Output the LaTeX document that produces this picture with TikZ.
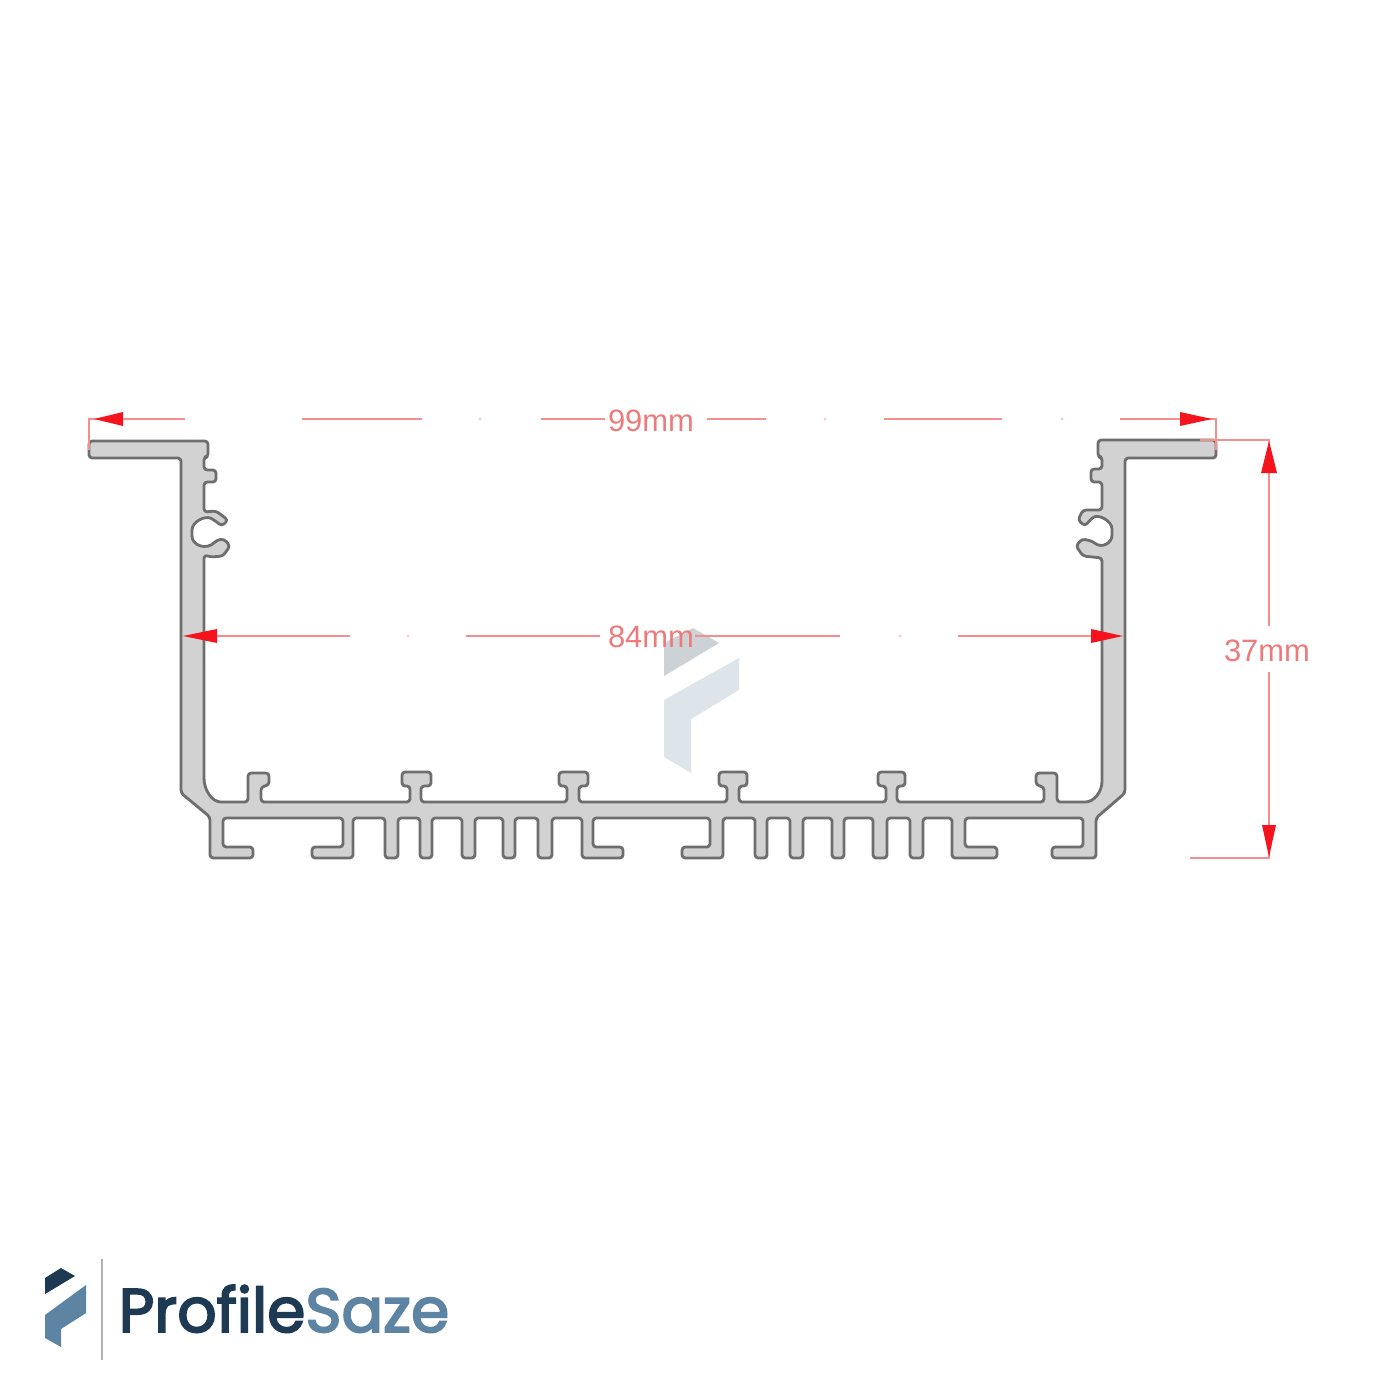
\documentclass[tikz,border=0pt]{standalone}
\usepackage{fontspec}
\setmainfont{Liberation Sans}
\newfontfamily\logofont[FakeBold=3]{Poppins}
\definecolor{metal}{HTML}{D2D2D2}
\definecolor{metaledge}{HTML}{6E6E6E}
\definecolor{dimline}{HTML}{F29090}
\definecolor{dimtext}{HTML}{EE7B7B}
\definecolor{dimhead}{HTML}{F5141E}
\definecolor{wmlow}{HTML}{DEE5EA}
\definecolor{wmup}{HTML}{CDD2D6}
\definecolor{logodark}{HTML}{1E3A52}
\definecolor{logoblue}{HTML}{5D84A3}
\tikzset{
  profile/.style={draw=metaledge,fill=metal,line width=0.8pt,line join=round,rounded corners=0.9pt},
  dimseg/.style={draw=dimline,line width=0.6pt},
  dimtip/.style={fill=dimhead,draw=none},
  dimlabel/.style={text=dimtext,font=\fontsize{8.8}{10}\selectfont,inner sep=0pt},
}
\begin{document}
\begin{tikzpicture}[x=0.01cm,y=-0.01cm]
\useasboundingbox (0,0) rectangle (1400,1400);
\fill[white] (0,0) rectangle (1400,1400);

% watermark
\fill[wmup] (664,643) -- (693,628) -- (719,643) -- (664,676) -- cycle;
\fill[wmlow] (664,700) -- (739,658) -- (739,690) -- (691,719) -- (691,773) -- (664,757) -- cycle;

% profile
\path[profile] (89,441) -- (208,441) -- (208,457) -- (204,457) -- (204,470) -- (216,470) -- (216,482) -- (204,482) -- (204,512)
  -- (216,511) -- (228,520) -- (222,526) -- (214,520)
  .. controls (205,515) and (192,522) .. (192,533) .. controls (192,545) and (206,551) .. (217,540)
  -- (224,539) -- (230,546) -- (223,556) -- (211,557) -- (204,555)
  -- (204,775) .. controls (204,790) and (212,802) .. (224,802)
  -- (248,802) -- (248,773) -- (269,773) -- (269,785) -- (261,787) -- (261,802)
  -- (410,802) -- (410,786) -- (402,786) -- (402,772) -- (431,772) -- (431,786) -- (421,786) -- (421,802)
  -- (567,802) -- (567,786) -- (559,786) -- (559,772) -- (588,772) -- (588,786) -- (579,786) -- (579,802)
  -- (727,802) -- (727,786) -- (719,786) -- (719,772) -- (747,772) -- (747,786) -- (739,786) -- (739,802)
  -- (886,802) -- (886,786) -- (878,786) -- (878,772) -- (905,772) -- (905,786) -- (897,786) -- (897,802)
  -- (1044,802) -- (1044,787) -- (1036,785) -- (1036,773) -- (1057,773) -- (1057,802)
  -- (1082,802) .. controls (1094,802) and (1102,792) .. (1102,778)
  -- (1102,558) -- (1083,556) -- (1076,546) -- (1082,539) -- (1092,541)
  .. controls (1102,549) and (1112,543) .. (1112,532) .. controls (1112,521) and (1098,513) .. (1090,520)
  -- (1085,526) -- (1078,520) -- (1083,510) -- (1102,510)
  -- (1102,482) -- (1091,482) -- (1091,469) -- (1102,469) -- (1102,457) -- (1098,457) -- (1098,440)
  -- (1216,440) -- (1216,458) -- (1125,458) -- (1125,793) -- (1103,812) -- (1096,818) -- (1096,858)
  -- (1052,858) -- (1052,847) -- (1083,847) -- (1083,818) -- (965,818) -- (965,847) -- (997,847) -- (997,858) -- (952,858) -- (952,818)
  -- (923,818) -- (923,858) -- (910,858) -- (910,818) -- (887,818) -- (887,858) -- (873,858) -- (873,818)
  -- (844,818) -- (844,858) -- (832,858) -- (832,818) -- (803,818) -- (803,858) -- (790,858) -- (790,818)
  -- (767,818) -- (767,858) -- (755,858) -- (755,818) -- (723,818) -- (723,858) -- (682,858) -- (682,847) -- (710,847) -- (710,818)
  -- (593,818) -- (593,847) -- (623,847) -- (623,858) -- (582,858) -- (582,818)
  -- (552,818) -- (552,858) -- (538,858) -- (538,818) -- (515,818) -- (515,858) -- (503,858) -- (503,818)
  -- (475,818) -- (475,858) -- (462,858) -- (462,818) -- (432,818) -- (432,858) -- (420,858) -- (420,818)
  -- (398,818) -- (398,858) -- (385,858) -- (385,818) -- (353,818) -- (353,858) -- (312,858) -- (312,847) -- (343,847) -- (343,818)
  -- (223,818) -- (223,847) -- (253,847) -- (253,858) -- (210,858) -- (210,817) -- (181,793) -- (181,458) -- (89,458) -- cycle;

% 99 mm dimension
\coordinate (wa) at (89,450); \coordinate (wb) at (89,419); \coordinate (wc) at (185,419);
\coordinate (wd) at (1216,450); \coordinate (we) at (1216,419); \coordinate (wf) at (1120,419);
\draw[dimseg] (wa) -- (wb) -- (wc);
\draw[dimseg] (wd) -- (we) -- (wf);
\foreach \a/\b in {302/422,541/605,707/766,884/1002}
  \draw[dimseg] (\a,419) -- (\b,419);
\foreach \p in {480,825,1062}
  \fill[dimline!50] (\p,419) circle (1.5);
\fill[dimtip] (94,419) -- (123,412) -- (123,426) -- cycle;
\fill[dimtip] (1212,419) -- (1180,412) -- (1180,426) -- cycle;
\node[dimlabel] (w99) at (651,421) {99mm};

% 84 mm dimension
\foreach \a/\b in {217/350,466/600,695/840,958/1091}
  \draw[dimseg] (\a,636) -- (\b,636);
\foreach \p in {408,900}
  \fill[dimline!50] (\p,636) circle (1.5);
\fill[dimtip] (183,636) -- (217,629) -- (217,643) -- cycle;
\fill[dimtip] (1123,636) -- (1091,629) -- (1091,643) -- cycle;
\node[dimlabel] (w84) at (651,637) {84mm};

% 37 mm dimension
\coordinate (ha) at (1200,440); \coordinate (hb) at (1269,440);
\coordinate (hc) at (1190,858); \coordinate (hd) at (1269,858);
\draw[dimseg] (ha) -- (hb) -- (1269,626);
\draw[dimseg] (hc) -- (hd) -- (1269,672);
\fill[dimtip] (1269,441) -- (1261,473) -- (1277,473) -- cycle;
\fill[dimtip] (1269,857) -- (1262,825) -- (1276,825) -- cycle;
\node[dimlabel] (h37) at (1267,651) {37mm};

% logo
\fill[logodark] (45,1278) -- (61,1268) -- (75,1276) -- (45,1294) -- cycle;
\fill[logoblue] (45,1315) -- (86,1285) -- (86,1313) -- (61,1329) -- (61,1347) -- (45,1338) -- cycle;
\coordinate (da) at (102,1259); \coordinate (db) at (102,1360);
\draw[black!30,line width=0.4pt] (da) -- (db);
\node[anchor=base west,inner sep=0pt,font=\logofont\fontsize{17.5}{20}\selectfont] (brand) at (118,1332)
  {\textcolor{logodark}{Profile}\textcolor{logoblue}{Saze}};
\end{tikzpicture}
\end{document}
